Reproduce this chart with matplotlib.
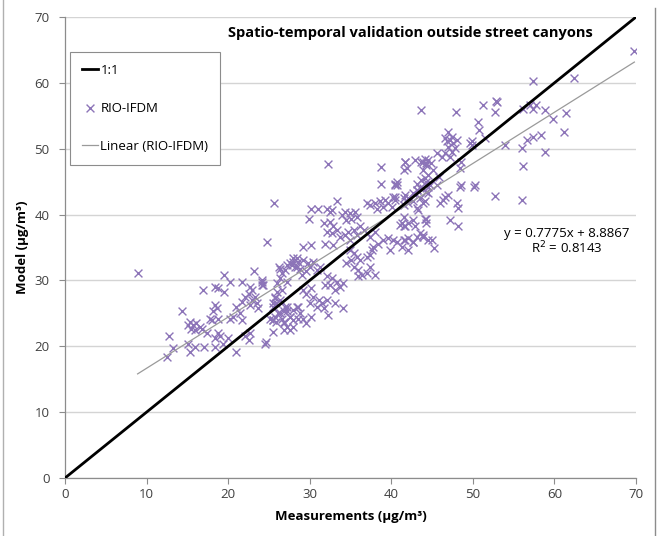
import matplotlib
matplotlib.use("Agg")
import matplotlib.pyplot as plt
from matplotlib.lines import Line2D

meas = [
    8.9, 24.8, 23.2, 19.5, 20.2, 18.4, 18.8, 19.5, 16.9, 21.7, 22.7, 22.9, 24.1, 24.1, 26.0, 26.6,
    26.4, 27.2, 28.0, 28.4, 27.8, 28.4, 14.3, 12.7, 12.5, 13.3, 15.3, 15.7, 15.5, 16.1, 16.6, 15.1,
    15.9, 16.8, 15.1, 15.3, 15.9, 17.0, 17.4, 17.8, 18.2, 18.4, 18.6, 18.0, 18.8, 18.8, 19.0, 18.4,
    18.4, 19.4, 20.0, 21.0, 20.2, 20.6, 21.5, 21.7, 21.0, 21.7, 22.1, 22.5, 22.7, 22.9, 23.3, 23.5,
    23.7, 22.1, 22.5, 22.7, 24.7, 25.7, 25.9, 25.5, 26.1, 26.8, 27.2, 27.6, 28.0, 28.6, 25.1, 25.5,
    25.9, 26.6, 26.8, 27.2, 27.6, 25.5, 26.8, 28.6, 26.0,
    32.3, 38.8, 41.7, 41.9, 43.9, 44.3, 38.8, 40.5, 40.7, 43.1, 44.1, 44.3, 44.5, 25.6, 33.4, 30.2,
    31.0, 32.1, 32.5, 32.7, 29.9, 34.3, 34.9, 35.6, 35.8, 35.1, 34.5, 33.9, 37.0, 37.4, 38.0, 38.2,
    38.6, 39.0, 39.2, 39.6, 40.1, 40.5, 41.5, 42.1, 42.7, 43.1, 43.5, 44.1, 44.3, 44.5, 43.3, 44.3,
    41.1, 41.7, 42.1, 40.2, 39.8, 39.6, 40.7, 41.5, 42.1, 42.7, 43.1, 43.9, 44.5,
    31.7, 32.5, 32.9, 32.1, 32.7, 33.3, 33.7, 34.3, 34.7, 34.9, 35.4, 35.8, 36.2, 36.6, 37.0, 37.4,
    38.0, 37.8, 38.4, 39.0, 29.2, 30.2, 31.9, 32.9, 37.0, 37.4, 37.6,
    34.9, 35.4, 35.8, 36.2, 35.1, 34.5, 35.4, 35.9, 36.4, 37.0, 37.4, 38.0, 35.9,
    28.0, 28.6, 27.6, 28.2, 28.8, 29.2, 29.8, 30.0, 30.4, 30.9, 31.3, 29.6, 29.0,
    26.2, 26.6, 27.0, 26.4, 27.2, 24.1, 24.3,
    32.1, 32.7, 33.3, 33.7, 32.5, 34.1, 33.1, 31.9,
    29.2, 29.6, 30.2, 30.4, 31.1, 30.0, 30.9, 31.5, 31.7, 32.1,
    25.7, 25.5, 26.4, 27.0, 27.2, 26.4, 25.7, 27.6, 28.0, 28.8, 29.2, 29.6, 30.2, 28.4,
    33.1, 34.1, 32.3, 25.5, 26.8, 28.0,
    43.6, 47.9, 51.3, 52.9, 52.7, 50.6, 50.8, 51.5, 56.2, 57.0, 57.4, 57.8, 58.8, 59.8,
    47.0, 46.6, 46.8, 47.2, 47.4, 47.6, 48.0, 47.0, 47.4, 47.8, 47.2, 46.6, 49.9, 49.9, 49.7,
    53.9, 56.0, 56.6, 57.4, 58.4, 58.8, 56.1, 52.7, 56.0,
    41.7, 41.5, 42.9, 43.7, 44.1, 44.5, 44.3, 44.9, 45.6, 46.2, 43.9, 45.1, 45.9, 43.7, 44.3, 44.7,
    45.6, 48.6, 48.4,
    40.5, 40.7, 41.7, 42.1, 42.7, 43.1, 41.5, 40.2, 40.5, 43.1, 43.9, 44.5, 43.5, 43.9,
    46.0, 46.6, 47.0, 46.4, 48.4, 48.6, 50.1, 50.3, 48.0, 48.2,
    41.5, 41.3, 41.5, 42.7, 42.9, 44.1, 44.3, 47.2, 48.2, 43.5, 43.9, 41.7, 42.7, 45.0, 45.2, 42.1, 41.3,
    69.8, 62.4, 57.4, 52.8, 61.4, 61.2, 24.5,
]
model = [
    31.2, 35.8, 31.5, 30.8, 29.8, 29.0, 28.8, 28.2, 28.6, 29.8, 29.0, 28.5, 30.1, 29.3, 29.6, 28.5,
    31.8, 32.3, 32.8, 33.4, 32.3, 32.1, 25.4, 21.5, 18.4, 19.7, 23.7, 23.2, 22.7, 23.5, 23.0, 23.2,
    22.5, 22.7, 20.4, 19.2, 19.9, 19.9, 22.0, 24.2, 25.3, 26.3, 25.8, 24.0, 24.2, 22.0, 21.5, 21.2,
    19.9, 20.4, 21.2, 19.2, 24.2, 24.5, 25.0, 24.0, 26.0, 26.8, 27.5, 28.0, 26.3, 27.0, 27.5, 26.5,
    25.8, 21.5, 21.0, 22.0, 20.7, 27.3, 26.5, 26.0, 25.0, 25.3, 26.0, 24.5, 25.5, 26.0, 24.2, 24.0,
    23.7, 24.2, 23.7, 23.0, 22.5, 22.2, 22.5, 24.2, 28.3,
    47.7, 47.2, 48.0, 47.0, 48.0, 47.8, 44.7, 44.5, 45.0, 44.7, 45.5, 44.5, 46.0, 41.8, 42.1, 40.8,
    40.8, 40.9, 40.4, 40.7, 39.3, 40.4, 40.2, 40.4, 39.7, 39.4, 39.2, 39.9, 41.7, 41.4, 41.7, 40.9,
    42.0, 41.2, 42.2, 41.7, 41.2, 42.7, 42.5, 41.7, 43.2, 43.7, 44.0, 42.0, 43.5, 44.2, 40.7, 39.4,
    38.4, 38.2, 38.7, 36.1, 34.6, 36.4, 35.9, 36.1, 36.4, 35.9, 36.6, 36.9, 36.1,
    38.7, 38.9, 38.2, 37.4, 37.2, 37.7, 36.6, 36.9, 37.4, 36.1, 37.7, 36.9, 38.2, 37.7, 37.2, 36.6,
    37.4, 35.1, 35.6, 36.1, 35.1, 35.4, 35.6, 35.4, 33.6, 33.9, 34.6,
    34.6, 34.1, 33.6, 33.1, 33.1, 32.6, 32.1, 31.6, 30.8, 31.1, 32.1, 30.8, 30.6,
    33.4, 32.8, 32.6, 32.1, 31.8, 33.1, 32.6, 32.1, 32.8, 31.6, 32.1, 31.4, 30.8,
    32.1, 31.1, 31.6, 30.3, 29.8, 29.8, 29.3,
    30.6, 30.3, 29.8, 29.0, 29.3, 29.6, 28.5, 29.3,
    28.5, 28.0, 28.8, 27.5, 27.0, 26.5, 26.0, 26.5, 25.8, 27.0,
    27.5, 26.5, 27.0, 26.0, 25.3, 25.0, 24.5, 24.5, 24.0, 25.0, 24.2, 23.5, 24.5, 26.0,
    26.5, 25.8, 24.7, 24.0, 23.5, 23.0,
    55.9, 55.5, 56.6, 57.1, 55.6, 54.1, 52.8, 51.6, 56.1, 56.6, 56.1, 56.6, 55.9, 54.5,
    52.6, 51.6, 51.1, 51.3, 51.8, 50.8, 51.3, 50.3, 49.5, 50.1, 48.8, 49.3, 51.1, 50.6, 50.8,
    50.6, 50.1, 51.3, 51.8, 52.1, 49.5, 47.3, 42.8, 42.2,
    48.0, 46.8, 48.3, 48.0, 48.5, 48.3, 47.5, 47.8, 49.3, 48.8, 46.8, 46.8, 45.7, 45.2, 45.0, 44.5,
    44.5, 48.0, 47.0,
    44.7, 44.5, 43.0, 42.5, 42.0, 41.0, 41.5, 42.7, 42.2, 43.7, 44.0, 43.2, 42.5, 41.7,
    41.7, 42.7, 43.0, 42.2, 44.2, 44.5, 44.2, 44.5, 41.7, 41.0,
    39.7, 38.7, 38.2, 39.2, 38.2, 39.4, 38.7, 39.2, 38.2, 37.2, 36.6, 36.1, 35.9, 36.1, 34.9, 34.6, 35.1,
    64.9, 60.7, 60.3, 57.3, 55.4, 52.6, 20.4,
]

# Linear trendline reported on the chart
slope = 0.7775
intercept = 8.8867
eq_text = "y = 0.7775x + 8.8867"
r2_text = "R$^2$ = 0.8143"

x_ticks = [0, 10, 20, 30, 40, 50, 60, 70]
y_ticks = [0, 10, 20, 30, 40, 50, 60, 70]
one_to_one = [0, 70]

plt.rcParams['font.family'] = ['Open Sans', 'DejaVu Sans']

fig = plt.figure(figsize=(6.63, 5.36), dpi=100)
ax = fig.add_axes([65/663, 1 - 478/536, (636 - 65)/663, (478 - 17)/536])

ax.set_xlim(0, 70)
ax.set_ylim(0, 70)
ax.set_xticks(x_ticks)
ax.set_yticks(y_ticks)

ax.grid(axis='y', color='#d4d4d4', linewidth=1.0, zorder=0)
ax.set_axisbelow(True)
for s in ['top', 'right']:
    ax.spines[s].set_visible(False)
for s in ['left', 'bottom']:
    ax.spines[s].set_color('#8c8c8c')
    ax.spines[s].set_linewidth(0.9)
ax.tick_params(axis='both', colors='#8c8c8c', labelcolor='#404040', labelsize=9.5,
               length=4, width=0.8, direction='out')
ax.tick_params(axis='y', pad=7)

ax.plot(one_to_one, one_to_one, color='black', linewidth=2.0, zorder=3, label='1:1')
ax.scatter(meas, model, marker='x', s=32, color='#8c74b8', linewidths=1.0, zorder=2,
           label='RIO-IFDM')
xmin, xmax = min(meas), max(meas)
ax.plot([xmin, xmax], [slope * xmin + intercept, slope * xmax + intercept],
        color='#9a9a9a', linewidth=0.9, zorder=2.5, label='Linear (RIO-IFDM)')

ax.set_xlabel('Measurements (µg/m³)', fontsize=9.5, fontweight='bold', labelpad=6)
ax.set_ylabel('Model (µg/m³)', fontsize=9.5, fontweight='bold', labelpad=4)

ax.text(0.605, 0.965, 'Spatio-temporal validation outside street canyons',
        transform=ax.transAxes, ha='center', va='center', fontsize=10.5, fontweight='bold')
ax.text(0.878, 0.512, eq_text + '\n' + r2_text, transform=ax.transAxes,
        ha='center', va='center', fontsize=9.5, linespacing=1.0)

leg = ax.legend(loc='upper left', bbox_to_anchor=(5/571, 1 - (52 - 17)/461),
                bbox_transform=ax.transAxes, frameon=True, fancybox=False,
                edgecolor='#8c8c8c', framealpha=1, fontsize=9.5, labelspacing=1.9,
                handlelength=1.2, handletextpad=0.2, borderpad=0.9, borderaxespad=0.0)
leg.get_frame().set_linewidth(0.8)

# chart-area border on the right and thin left edge
fig.add_artist(Line2D([655/663, 655/663], [0, 1 - 8/536], transform=fig.transFigure,
                      color='#8c8c8c', linewidth=1.0))
fig.add_artist(Line2D([2.5/663, 2.5/663], [0, 1], transform=fig.transFigure,
                      color='#b0b0b0', linewidth=1.0))

fig.savefig('out.png', dpi=100)
